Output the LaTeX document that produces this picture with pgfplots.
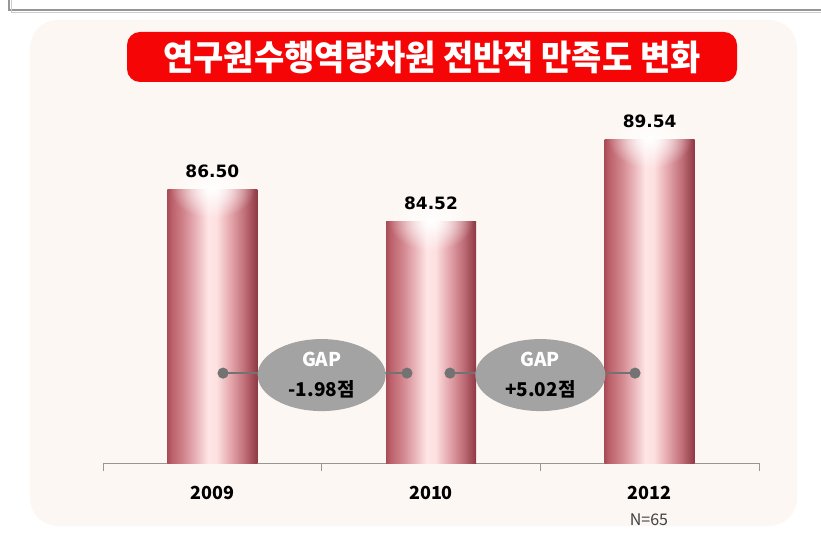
\documentclass[border=0pt]{standalone}
\usepackage{fontspec}
\setmainfont{Noto Sans CJK KR}
\newfontfamily\titlefont[FakeStretch=0.94]{Noto Sans CJK KR}
\newfontfamily\numfont{DejaVu Sans}
\usepackage{pgfplots}
\pgfplotsset{compat=1.18}
\usetikzlibrary{fadings,shapes.geometric}

\definecolor{panel}{RGB}{253,247,243}
\definecolor{titlered}{RGB}{245,5,5}
\definecolor{gapgray}{RGB}{163,163,163}
\definecolor{linegray}{RGB}{115,115,115}
\definecolor{axisgray}{RGB}{150,150,150}
\definecolor{framedark}{RGB}{150,150,150}
\definecolor{framelight}{RGB}{205,205,205}

% cylinder look of the bars (TikZ fits the middle 25bp..75bp to the bar)
\pgfdeclarehorizontalshading{cyl}{100bp}{
  rgb(0bp)=(0.66,0.30,0.34); rgb(25bp)=(0.66,0.30,0.34);
  rgb(27.5bp)=(0.74,0.38,0.42);
  rgb(34bp)=(0.82,0.52,0.55); rgb(41.5bp)=(0.92,0.72,0.74);
  rgb(47.5bp)=(1,0.90,0.90); rgb(52.5bp)=(0.99,0.88,0.88);
  rgb(59bp)=(0.91,0.68,0.70); rgb(67.5bp)=(0.76,0.44,0.48);
  rgb(75bp)=(0.56,0.22,0.26); rgb(100bp)=(0.56,0.22,0.26)}
\tikzfading[name=glowfade, inner color=transparent!0, outer color=transparent!100]

\pgfplotsset{
  cylbar/.style={ybar, bar width=90pt, draw=none, shade, shading=cyl},
  gapline/.style={linegray, line width=2pt, mark=*, mark size=4.5pt,
    mark indices={1}, mark options={fill=linegray, draw=none}},
}

\begin{document}
\begin{tikzpicture}
\useasboundingbox (0pt,0pt) rectangle (821pt,538pt);
\fill[white] (0pt,0pt) rectangle (821pt,538pt);
% window frame
\draw[framedark, line width=1.5pt] (9pt,538pt) |- (821pt,528pt);
\draw[framelight, line width=1.2pt] (11.5pt,538pt) |- (821pt,525.5pt);
% panel
\fill[panel, rounded corners=28pt] (30pt,12pt) rectangle (797pt,518pt);
% title
\fill[titlered, rounded corners=13pt] (127pt,456pt) rectangle (737pt,506pt);
\node[text=white, font=\titlefont\bfseries\fontsize{35}{36}\selectfont] at (432pt,481pt) {연구원수행역량차원 전반적 만족도 변화};

\begin{axis}[
    at={(103pt,75pt)}, anchor=south west,
    scale only axis,
    width=656pt, height=363pt,
    xmin=-0.5, xmax=2.5,
    ymin=69.8, ymax=91.93,
    axis x line*=bottom,
    axis y line=none,
    x axis line style={axisgray, line width=1pt},
    xtick={0,1,2},
    xticklabels={2009,2010,2012},
    major tick length=0pt,
    extra x ticks={-0.5,0.5,1.5,2.5},
    extra x tick labels={},
    extra x tick style={major tick length=8pt, tick align=outside,
        tick style={axisgray, line width=1pt}},
    xticklabel style={font=\bfseries\fontsize{18}{18}\selectfont, text=black,
        anchor=base, inner sep=0pt, yshift=-36pt},
    clip=false,
]
% bars, one plot each so that every bar gets its own shading
\addplot[cylbar] coordinates {(0,86.50)};
\addplot[cylbar] coordinates {(1,84.52)};
\addplot[cylbar] coordinates {(2,89.54)};
% glow at the top of each bar
\addplot[draw=none, mark=none, nodes near coords={},
    every node near coord/.append style={anchor=center, minimum width=84pt,
        minimum height=58pt, inner sep=0pt, fill=white, path fading=glowfade}]
    coordinates {(0,86.50) (1,84.52) (2,89.54)};
% value labels
\addplot[draw=none, mark=none, nodes near coords, point meta=y,
    nodes near coords style={font=\numfont\bfseries\fontsize{17}{17}\selectfont,
        text=black, anchor=base, yshift=12pt,
        /pgf/number format/.cd, fixed, fixed zerofill, precision=2,
        assume math mode=true}]
    coordinates {(0,86.50) (1,84.52) (2,89.54)};
% gap connectors
\addplot[gapline] coordinates {(0.049,75.28) (0.5,75.28)};
\addplot[gapline] coordinates {(0.89,75.28) (0.5,75.28)};
\addplot[gapline] coordinates {(1.087,75.28) (1.5,75.28)};
\addplot[gapline] coordinates {(1.933,75.28) (1.5,75.28)};
\node[ellipse, fill=gapgray, minimum width=128pt, minimum height=72pt, inner sep=0pt,
    align=center, font=\bfseries\fontsize{19}{30}\selectfont]
    at (axis cs:0.5,75.16) {\textcolor{white}{GAP}\\-1.98점};
\node[ellipse, fill=gapgray, minimum width=130pt, minimum height=72pt, inner sep=0pt,
    align=center, font=\bfseries\fontsize{19}{30}\selectfont]
    at (axis cs:1.5,75.16) {\textcolor{white}{GAP}\\+5.02점};
\end{axis}
\node[font=\fontsize{16}{16}\selectfont, text=black!75] at (649pt,18pt) {N=65};
\end{tikzpicture}
\end{document}
